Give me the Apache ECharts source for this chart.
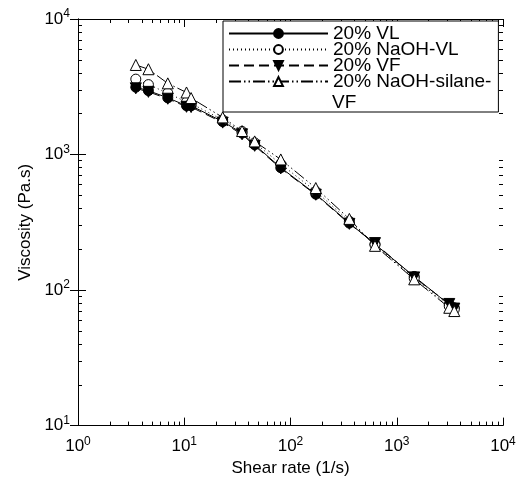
<!DOCTYPE html>
<html>
<head>
<meta charset="utf-8">
<script src="https://cdn.jsdelivr.net/npm/echarts@6/dist/echarts.min.js"></script>
<style>
  html, body { margin: 0; padding: 0; background: #fff; }
  #chart { width: 526px; height: 482px; }
</style>
</head>
<body>
<div id="chart"></div>
<script>
// Shear rate (1/s) shared by all four samples
const shearRate = [3.5, 4.6, 7.0, 10.5, 11.6, 23, 35, 46, 81, 173, 358, 624, 1460, 3120, 3480];

const seriesNames = ['20% VL', '20% NaOH-VL', '20% VF', '20% NaOH-silane-VF'];

// Viscosity (Pa.s)
const viscVL           = [3140, 2960, 2620, 2290, 2290, 1750, 1440, 1180, 800, 510, 312, 218, 126, 78, 74];
const viscNaOHVL       = [3600, 3280, 2840, 2440, 2380, 1800, 1480, 1220, 850, 535, 322, 216, 122, 76, 72];
const viscVF           = [3080, 2900, 2580, 2250, 2240, 1720, 1410, 1160, 790, 505, 308, 222, 124, 79, 73];
const viscNaOHSilaneVF = [4580, 4260, 3350, 2870, 2610, 1880, 1490, 1250, 920, 566, 335, 212, 120, 74, 70];

// Decade exponents used for tick labels
const xTickExponents = [0, 1, 2, 3, 4];
const yTickExponents = [1, 2, 3, 4];

const FONT = '"Liberation Sans", Arial, Helvetica, sans-serif';

// Minor tick positions (2..9 within each decade), in log10 units
function minorLogPositions(lo, hi) {
  const out = [];
  for (let e = lo; e < hi; e++) {
    for (let k = 2; k <= 9; k++) out.push(e + Math.log10(k));
  }
  return out;
}

const powRich = {
  b: { fontSize: 17, fontFamily: FONT, color: '#000', lineHeight: 22 },
  s: { fontSize: 12, fontFamily: FONT, color: '#000', lineHeight: 12, verticalAlign: 'top' }
};
const powLabel = v => '{b|10}{s|' + Math.round(v) + '}';

const black = '#000';

function tickAxis(kind, position, lo, hi, major, extra) {
  const ax = {
    type: 'value',
    min: lo,
    max: hi,
    interval: 1,
    position: position,
    silent: true,
    splitLine: { show: false },
    axisLine: { show: major, lineStyle: { color: black, width: 1 } },
    axisTick: {
      show: true,
      inside: true,
      length: major ? 8 : 4,
      lineStyle: { color: black, width: 1 },
      customValues: major
        ? (kind === 'x' ? xTickExponents : yTickExponents)
        : minorLogPositions(lo, hi)
    },
    axisLabel: { show: false }
  };
  return Object.assign(ax, extra || {});
}

function lineSeries(name, values, symbol, fill, dash, extra) {
  return Object.assign({
    name: name,
    type: 'line',
    xAxisIndex: 0,
    yAxisIndex: 0,
    data: shearRate.map((x, i) => [x, values[i]]),
    symbol: symbol,
    symbolSize: 10,
    lineStyle: { color: black, width: 1, type: dash },
    itemStyle: { color: fill, borderColor: black, borderWidth: 1 },
    emphasis: { disabled: true },
    z: 3
  }, extra || {});
}

const chart = echarts.init(document.getElementById('chart'), null, { renderer: 'canvas' });

chart.setOption({
  animation: false,
  backgroundColor: '#fff',
  textStyle: { fontFamily: FONT },
  grid: { left: 78, right: 23, top: 19, bottom: 50, containLabel: false },
  xAxis: [
    // data axis (log scale), drawn via the tick axes below
    { type: 'log', logBase: 10, min: 1, max: 10000, show: false },
    tickAxis('x', 'bottom', 0, 4, true, {
      name: 'Shear rate (1/s)',
      nameLocation: 'middle',
      nameGap: 33,
      nameTextStyle: { fontSize: 17, fontFamily: FONT, color: black },
      axisLabel: { show: true, margin: 10, formatter: powLabel, rich: powRich, customValues: xTickExponents }
    }),
    tickAxis('x', 'bottom', 0, 4, false),
    tickAxis('x', 'top', 0, 4, true),
    tickAxis('x', 'top', 0, 4, false)
  ],
  yAxis: [
    { type: 'log', logBase: 10, min: 10, max: 10000, show: false },
    tickAxis('y', 'left', 1, 4, true, {
      name: 'Viscosity (Pa.s)',
      nameLocation: 'middle',
      nameGap: 39,
      nameTextStyle: { fontSize: 17, fontFamily: FONT, color: black },
      axisLabel: { show: true, margin: 8, formatter: powLabel, rich: powRich, customValues: yTickExponents }
    }),
    tickAxis('y', 'left', 1, 4, false),
    tickAxis('y', 'right', 1, 4, true),
    tickAxis('y', 'right', 1, 4, false)
  ],
  legend: {
    orient: 'vertical',
    left: 223,
    top: 21,
    padding: [3, 7, 21, 5],
    itemGap: -3,
    itemWidth: 99,
    itemHeight: 11,
    selectedMode: false,
    backgroundColor: '#fff',
    borderColor: black,
    borderWidth: 1,
    data: seriesNames,
    formatter: n => (n === seriesNames[3] ? '20% NaOH-silane-' : n),
    textStyle: { fontSize: 19, fontFamily: FONT, color: black, lineHeight: 16 }
  },
  graphic: [
    {
      type: 'text',
      x: 332,
      y: 103,
      z: 100,
      style: { text: 'VF', fontSize: 19, fontFamily: FONT, fill: black, verticalAlign: 'middle', align: 'left' }
    }
  ],
  series: [
    lineSeries(seriesNames[0], viscVL, 'circle', black, 'solid'),
    lineSeries(seriesNames[1], viscNaOHVL, 'circle', '#fff', [1, 3]),
    lineSeries(seriesNames[2], viscVF, 'triangle', black, [10, 5], { symbolRotate: 180, symbolSize: 11 }),
    lineSeries(seriesNames[3], viscNaOHSilaneVF, 'triangle', '#fff', [12, 3, 1.5, 3, 1.5, 3], { symbolSize: 11 })
  ]
});
</script>
</body>
</html>
